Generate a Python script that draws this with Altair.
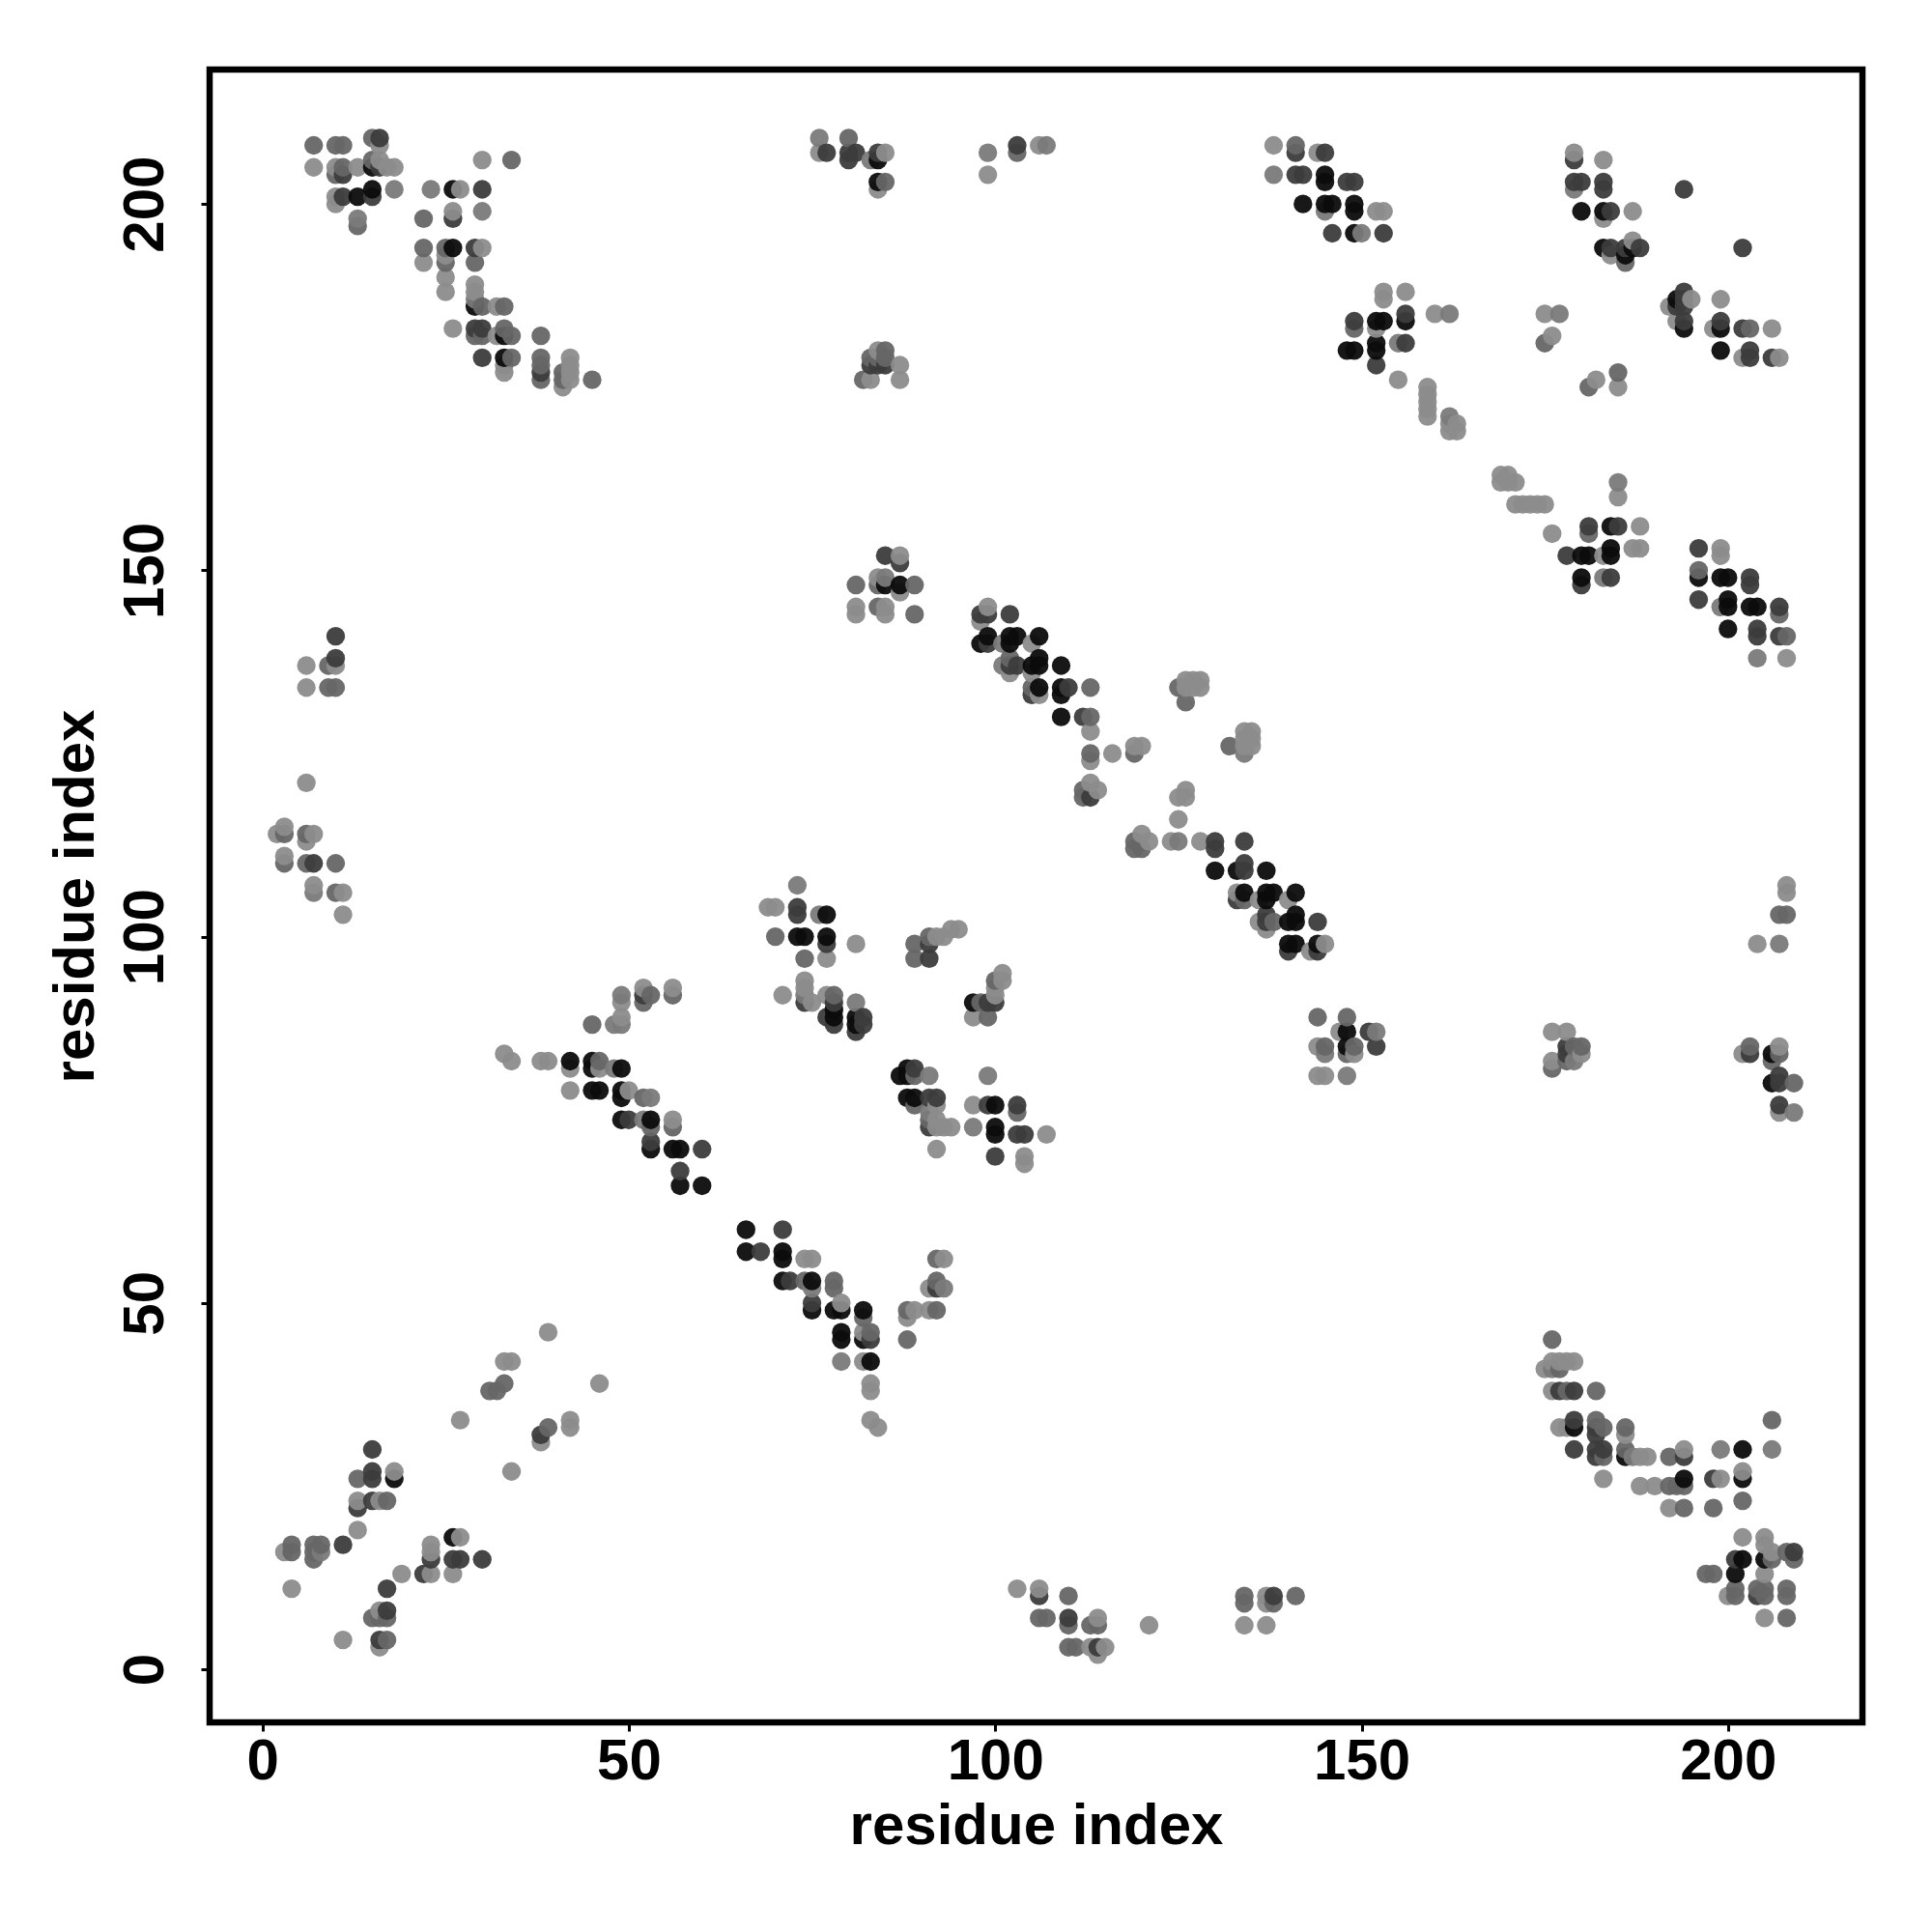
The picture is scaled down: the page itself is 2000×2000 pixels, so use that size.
import altair as alt
import pandas as pd

top_left = [(7,208,'M'),(10,208,'M'),(11,208,'M'),(15,209,'M'),(16,209,'D'),(16,208,'L'),(7,205,'L'),(10,205,'L'),(11,205,'M'),(10,204,'M'),(11,204,'D'),(13,205,'L'),(15,205,'K'),(15,206,'M'),(16,206,'L'),(16,205,'D'),(17,205,'L'),(18,205,'L'),(18,202,'A'),(15,202,'K'),(15,201,'D'),(13,201,'K'),(11,201,'D'),(10,201,'L'),(10,200,'L'),(13,198,'A'),(13,197,'M')]
arc_a = [(23,202,'A'),(26,202,'K'),(27,202,'L'),(30,202,'D'),(30,206,'L'),(34,206,'M'),(30,199,'A'),(26,199,'L'),(26,198,'D'),(22,198,'M'),(22,194,'M'),(22,192,'L'),(25,194,'M'),(26,194,'K'),(25,193,'L'),(25,192,'M'),(25,190,'L'),(25,188,'L'),(29,194,'D'),(30,194,'L'),(29,192,'M'),(29,189,'L'),(29,188,'L'),(29,187,'A'),(29,186,'K'),(30,186,'M'),(32,186,'L'),(33,186,'M'),(26,183,'L'),(29,183,'D'),(30,183,'D'),(29,182,'M'),(30,182,'M'),(32,182,'L'),(33,183,'M'),(33,182,'K'),(34,182,'M'),(38,182,'M'),(30,179,'D'),(33,179,'K'),(34,179,'M'),(33,178,'L'),(33,177,'L'),(38,179,'M'),(38,178,'M'),(38,177,'D'),(38,176,'M'),(42,179,'L'),(42,178,'L'),(42,177,'L'),(42,176,'L'),(41,177,'M'),(41,176,'M'),(41,175,'L'),(45,176,'M')]
top_mid = [(76,209,'A'),(76,207,'L'),(77,207,'D'),(80,209,'M'),(80,207,'D'),(80,206,'D'),(81,207,'D'),(83,206,'A'),(84,207,'D'),(84,206,'K'),(85,207,'L'),(84,203,'K'),(85,203,'M'),(84,202,'L'),(99,207,'A'),(99,204,'L'),(103,208,'D'),(103,207,'M'),(106,208,'L'),(107,208,'A')]
mid_176 = [(85,180,'M'),(84,180,'L'),(83,179,'M'),(84,179,'M'),(85,179,'M'),(83,178,'D'),(84,178,'D'),(85,178,'D'),(87,178,'L'),(82,176,'M'),(83,176,'L'),(87,176,'L')]
mid_148 = [(85,152,'D'),(87,152,'L'),(87,151,'D'),(81,148,'M'),(84,149,'L'),(85,149,'A'),(84,148,'M'),(85,148,'K'),(87,148,'K'),(89,148,'M'),(87,147,'L'),(81,145,'L'),(81,144,'L'),(84,145,'M'),(85,145,'L'),(85,144,'L'),(89,144,'M')]
left_137 = [(10,141,'D'),(10,138,'D'),(9,137,'M'),(10,137,'L'),(6,137,'L'),(6,134,'L'),(9,134,'M'),(10,134,'M'),(6,121,'L')]
left_110 = [(2,114,'L'),(3,115,'L'),(3,114,'M'),(3,111,'L'),(3,110,'M'),(6,114,'M'),(7,114,'L'),(6,113,'L'),(6,110,'M'),(7,110,'D'),(10,110,'M'),(7,107,'L'),(7,106,'A'),(10,106,'M'),(11,106,'L'),(11,103,'L')]
cross_100 = [(73,107,'A'),(69,104,'L'),(70,104,'L'),(73,104,'D'),(73,103,'D'),(76,103,'A'),(77,103,'K'),(70,100,'M'),(73,100,'K'),(74,100,'K'),(77,100,'K'),(77,99,'D'),(81,99,'L'),(74,97,'M'),(77,97,'L'),(89,99,'M'),(89,97,'M'),(91,100,'M'),(91,99,'D'),(91,97,'D'),(92,100,'L'),(93,100,'L'),(94,101,'L'),(95,101,'L')]
cross_90 = [(74,94,'L'),(74,93,'L'),(71,92,'L'),(74,92,'A'),(77,92,'L'),(78,92,'M'),(81,91,'A'),(74,91,'D'),(75,91,'L'),(78,91,'D'),(78,90,'K'),(77,89,'D'),(78,89,'K'),(78,88,'D'),(81,89,'K'),(82,89,'D'),(81,88,'K'),(82,88,'D'),(81,87,'D')]
rise_50 = [(49,92,'A'),(49,91,'L'),(49,89,'L'),(49,88,'A'),(48,88,'A'),(45,88,'M'),(52,93,'L'),(52,92,'D'),(52,91,'M'),(53,92,'M'),(56,93,'L'),(56,92,'M')]
fall_75 = [(33,84,'L'),(34,83,'L'),(38,83,'L'),(39,83,'L'),(42,83,'K'),(45,83,'K'),(46,83,'M'),(42,82,'L'),(45,82,'K'),(46,82,'L'),(48,82,'A'),(49,82,'K'),(42,79,'L'),(45,79,'K'),(46,79,'K'),(49,79,'K'),(50,79,'L'),(49,78,'K'),(52,78,'M'),(53,78,'A'),(49,75,'K'),(50,75,'D'),(52,75,'A'),(53,75,'K'),(56,75,'L'),(53,74,'M'),(56,74,'M'),(53,72,'D'),(53,71,'K'),(56,71,'K'),(57,71,'K'),(60,71,'D'),(57,68,'D'),(57,66,'K'),(60,66,'K')]
fall_50 = [(66,60,'K'),(66,57,'K'),(68,57,'D'),(71,60,'D'),(71,57,'K'),(71,56,'K'),(74,56,'L'),(75,56,'L'),(71,53,'K'),(72,53,'D'),(74,53,'M'),(75,53,'K'),(75,52,'A'),(78,53,'M'),(78,52,'M'),(75,50,'D'),(75,49,'K'),(78,49,'K'),(79,49,'K'),(79,50,'L'),(82,49,'K'),(82,48,'M'),(79,46,'K'),(79,45,'K'),(82,46,'L'),(83,46,'M'),(82,45,'K'),(83,45,'D'),(79,42,'A'),(82,42,'L'),(83,42,'K'),(83,39,'L'),(83,38,'L'),(83,34,'L'),(84,33,'L'),(88,49,'M'),(88,48,'L'),(89,49,'L'),(88,45,'M'),(91,49,'L'),(92,49,'M'),(92,56,'M'),(93,56,'L'),(91,52,'L'),(92,53,'M'),(92,52,'D'),(93,52,'A')]
low_left = [(39,46,'L'),(33,42,'L'),(34,42,'L'),(46,39,'L'),(31,38,'M'),(32,38,'M'),(33,39,'M'),(27,34,'L'),(42,34,'L'),(42,33,'L'),(39,33,'M'),(38,32,'D'),(38,31,'L'),(34,27,'L'),(15,30,'D'),(13,26,'M'),(15,27,'D'),(15,26,'D'),(18,27,'L'),(18,26,'K'),(13,23,'L'),(13,22,'D'),(15,23,'D'),(16,23,'L'),(17,23,'M'),(13,19,'L'),(3,16,'L'),(4,17,'M'),(4,16,'M'),(7,17,'M'),(7,16,'M'),(7,15,'M'),(8,17,'M'),(8,16,'A'),(11,17,'D'),(4,11,'L'),(26,18,'K'),(27,18,'L'),(23,17,'L'),(23,16,'L'),(23,15,'D'),(26,15,'D'),(27,15,'D'),(30,15,'D'),(19,13,'L'),(22,13,'D'),(23,13,'L'),(26,13,'L'),(17,11,'D'),(15,7,'M'),(16,8,'L'),(17,8,'D'),(16,7,'M'),(17,7,'M'),(11,4,'L'),(16,4,'D'),(17,4,'M'),(16,3,'L')]
top_145 = [(138,208,'L'),(141,208,'M'),(141,207,'D'),(144,207,'L'),(145,207,'D'),(138,204,'A'),(141,204,'D'),(142,204,'D'),(145,204,'K'),(145,203,'K'),(148,203,'D'),(149,203,'D'),(142,200,'K'),(145,200,'K'),(146,200,'K'),(145,199,'A'),(149,200,'K'),(149,199,'K'),(152,199,'L'),(153,199,'L'),(146,196,'D'),(149,196,'K'),(150,196,'A'),(153,196,'D')]
blob_152 = [(153,188,'L'),(153,187,'L'),(156,188,'L'),(156,185,'D'),(156,184,'K'),(160,185,'L'),(162,185,'A'),(149,184,'D'),(149,183,'M'),(152,184,'K'),(153,184,'K'),(152,183,'L'),(152,181,'K'),(152,180,'K'),(155,181,'A'),(156,181,'D'),(148,180,'K'),(149,180,'K'),(152,178,'D'),(155,176,'L')]
tail_165 = [(159,175,'L'),(159,174,'L'),(159,173,'L'),(159,172,'L'),(159,171,'L'),(162,171,'A'),(162,170,'L'),(163,170,'L'),(162,169,'L'),(163,169,'L'),(169,163,'L'),(170,163,'L'),(169,162,'L'),(170,162,'L'),(171,162,'L'),(171,159,'L'),(172,159,'L'),(173,159,'L'),(174,159,'L'),(175,159,'L'),(176,155,'L')]
blob_182 = [(185,162,'A'),(185,160,'L'),(181,156,'D'),(181,155,'M'),(184,156,'K'),(185,156,'D'),(188,156,'L'),(178,152,'D'),(180,152,'K'),(181,152,'K'),(183,152,'L'),(184,153,'K'),(184,152,'K'),(187,153,'L'),(188,153,'L'),(180,149,'K'),(180,148,'D'),(183,149,'A'),(184,149,'D')]
blob_202 = [(196,153,'D'),(199,153,'L'),(199,152,'L'),(196,150,'M'),(196,149,'K'),(199,149,'K'),(200,149,'K'),(203,149,'D'),(203,148,'D'),(196,146,'D'),(199,145,'A'),(200,146,'K'),(200,145,'K'),(203,145,'K'),(204,145,'K'),(207,145,'D'),(207,144,'M'),(200,142,'K'),(204,142,'D'),(204,141,'D'),(207,141,'D'),(208,141,'M'),(204,138,'A'),(208,138,'L')]
top_right = [(179,207,'L'),(179,206,'D'),(183,206,'L'),(179,203,'D'),(180,203,'D'),(179,202,'A'),(183,203,'D'),(183,202,'D'),(180,199,'K'),(183,199,'K'),(184,199,'D'),(183,198,'L'),(187,199,'L'),(194,202,'D'),(183,194,'K'),(184,194,'D'),(184,193,'L'),(186,194,'D'),(187,195,'L'),(187,194,'K'),(186,193,'K'),(186,192,'M'),(188,194,'D'),(202,194,'D')]
right_184 = [(194,188,'D'),(193,187,'K'),(194,187,'D'),(195,187,'L'),(192,186,'L'),(193,186,'D'),(194,186,'D'),(199,187,'L'),(193,184,'L'),(194,184,'D'),(194,183,'K'),(198,183,'L'),(199,184,'D'),(199,183,'K'),(202,183,'D'),(203,183,'M'),(206,183,'L'),(199,180,'K'),(203,180,'D'),(203,179,'D'),(202,179,'L'),(206,179,'D'),(207,179,'L')]
scatter_180 = [(175,185,'L'),(177,185,'A'),(176,182,'L'),(175,181,'M'),(181,175,'M'),(182,176,'L'),(185,177,'M'),(185,175,'L')]
diag_upper = [(99,145,'L'),(98,144,'D'),(99,144,'D'),(102,144,'D'),(98,143,'L'),(98,140,'K'),(99,141,'K'),(99,140,'D'),(102,141,'K'),(103,141,'K'),(102,140,'K'),(106,141,'K'),(101,140,'A'),(105,140,'L'),(101,137,'A'),(102,138,'M'),(102,137,'D'),(102,136,'L'),(103,137,'D'),(105,137,'K'),(106,138,'K'),(106,137,'K'),(109,137,'K'),(105,136,'L'),(106,134,'K'),(105,134,'M'),(105,133,'D'),(106,133,'L'),(109,134,'K'),(110,134,'D'),(109,133,'K'),(113,134,'M'),(109,130,'K'),(112,130,'D'),(113,130,'M'),(113,128,'L'),(113,125,'M'),(113,124,'L'),(116,125,'L'),(119,126,'L'),(120,126,'L'),(119,125,'M'),(112,120,'M'),(113,121,'L'),(114,120,'L'),(112,119,'M'),(113,119,'D')]
cross_130 = [(125,134,'M'),(126,135,'L'),(127,135,'L'),(128,135,'L'),(126,134,'L'),(127,134,'L'),(128,134,'L'),(126,132,'M'),(132,126,'M'),(134,128,'L'),(135,128,'L'),(134,127,'L'),(135,127,'L'),(134,126,'L'),(135,126,'L'),(134,125,'A')]
diag_lower = [(126,120,'L'),(125,119,'L'),(126,119,'L'),(125,116,'L'),(119,113,'M'),(120,114,'L'),(121,113,'L'),(119,112,'M'),(120,112,'M'),(124,113,'L'),(125,113,'A'),(128,113,'L'),(130,113,'D'),(130,112,'D'),(134,113,'D'),(130,109,'K'),(133,109,'K'),(134,110,'D'),(134,109,'D'),(137,109,'K'),(133,106,'L'),(134,106,'K'),(133,105,'D'),(134,105,'M'),(137,106,'K'),(138,106,'K'),(137,105,'K'),(141,106,'K'),(140,105,'L'),(136,105,'L'),(136,102,'L'),(137,103,'D'),(137,102,'D'),(138,102,'M'),(137,101,'L'),(140,102,'K'),(141,103,'K'),(141,102,'K'),(144,102,'D'),(140,99,'K'),(141,99,'K'),(140,98,'D'),(144,99,'K'),(145,99,'L'),(143,98,'L'),(144,98,'D')]
right_103 = [(208,107,'L'),(208,106,'L'),(207,103,'M'),(208,103,'M'),(204,99,'L'),(207,99,'A')]
blob_85 = [(87,81,'K'),(88,82,'K'),(89,82,'D'),(88,81,'K'),(89,81,'M'),(91,81,'A'),(88,78,'K'),(89,78,'K'),(89,77,'M'),(91,78,'D'),(92,78,'D'),(92,77,'L'),(91,76,'A'),(91,75,'M'),(91,74,'D'),(92,74,'L'),(93,74,'L'),(94,74,'L'),(92,71,'L'),(92,75,'L'),(99,81,'A'),(97,77,'L'),(99,77,'D'),(100,77,'K'),(103,77,'D'),(103,76,'M'),(97,74,'A'),(100,74,'K'),(100,73,'K'),(103,73,'D'),(104,73,'D'),(107,73,'L'),(100,70,'D'),(104,70,'L'),(104,69,'L'),(101,95,'L'),(100,94,'M'),(101,94,'L'),(100,93,'L'),(100,92,'L'),(99,91,'D'),(100,91,'D'),(97,91,'K'),(98,91,'M'),(97,89,'L'),(99,89,'M')]
blob_148 = [(144,89,'M'),(148,89,'M'),(147,87,'L'),(148,87,'K'),(151,87,'D'),(152,87,'A'),(144,85,'L'),(145,85,'M'),(148,85,'K'),(149,85,'M'),(152,85,'D'),(145,84,'A'),(148,84,'M'),(149,84,'L'),(144,81,'L'),(145,81,'L'),(148,81,'A')]
blob_178 = [(176,87,'L'),(178,87,'L'),(178,85,'D'),(179,85,'M'),(180,85,'M'),(176,83,'L'),(176,82,'M'),(178,84,'D'),(178,83,'M'),(179,83,'A'),(180,84,'L')]
blob_206 = [(202,84,'L'),(203,85,'M'),(203,84,'D'),(206,84,'K'),(207,85,'L'),(207,84,'M'),(206,83,'M'),(206,80,'K'),(207,81,'D'),(207,80,'D'),(209,80,'M'),(207,77,'D'),(207,76,'L'),(209,76,'A')]
arc_b = [(176,45,'M'),(175,41,'L'),(176,42,'L'),(176,41,'A'),(177,42,'L'),(178,42,'L'),(179,42,'L'),(177,41,'M'),(176,38,'L'),(177,38,'D'),(178,38,'M'),(179,38,'D'),(182,38,'M'),(177,33,'L'),(178,33,'L'),(179,34,'D'),(179,33,'K'),(182,34,'M'),(182,33,'D'),(183,33,'M'),(182,32,'D'),(186,33,'M'),(186,32,'L'),(179,30,'D'),(182,30,'D'),(183,30,'D'),(182,29,'D'),(183,29,'M'),(186,30,'M'),(186,29,'K'),(187,29,'A'),(188,29,'L'),(189,29,'L'),(183,26,'L'),(192,29,'M'),(194,30,'L'),(194,29,'D'),(199,30,'A'),(202,30,'K'),(198,26,'D'),(199,26,'L'),(194,26,'K'),(202,27,'L'),(202,26,'K'),(188,25,'L'),(190,25,'L'),(192,25,'M'),(193,25,'M'),(194,25,'M'),(192,22,'L'),(194,22,'M'),(198,22,'M'),(202,23,'M'),(206,34,'M'),(206,30,'A')]
corner = [(202,18,'L'),(205,18,'L'),(205,17,'L'),(206,16,'L'),(205,15,'K'),(206,15,'M'),(208,16,'M'),(209,16,'D'),(209,15,'M'),(201,15,'D'),(202,15,'K'),(201,13,'K'),(197,13,'M'),(198,13,'M'),(205,13,'L'),(201,11,'M'),(205,11,'M'),(200,10,'L'),(201,10,'M'),(204,11,'M'),(204,10,'D'),(205,10,'M'),(208,11,'M'),(208,10,'M'),(205,7,'L'),(208,7,'M')]
bottom_mid = [(103,11,'L'),(106,11,'L'),(106,10,'D'),(110,10,'M'),(106,7,'M'),(107,7,'M'),(110,7,'D'),(110,6,'M'),(113,6,'M'),(114,7,'L'),(114,6,'M'),(110,3,'M'),(111,3,'M'),(113,3,'L'),(114,3,'D'),(115,3,'L'),(114,2,'L'),(121,6,'L'),(134,10,'M'),(134,9,'M'),(137,10,'L'),(138,10,'D'),(137,9,'L'),(138,9,'M'),(141,10,'M'),(134,6,'L'),(137,6,'L')]

groups = [top_left, arc_a, top_mid, mid_176, mid_148, left_137, left_110, cross_100, cross_90,
          rise_50, fall_75, fall_50, low_left, top_145, blob_152, tail_165, blob_182, blob_202,
          top_right, right_184, scatter_180, diag_upper, cross_130, diag_lower, right_103,
          blob_85, blob_148, blob_178, blob_206, arc_b, corner, bottom_mid]
shades = {'L': '#8c8c8c', 'A': '#7a7a7a', 'M': '#666666', 'D': '#3c3c3c', 'K': '#0c0c0c'}

rows = [{'x': x, 'y': y, 'c': shades[s]} for g in groups for x, y, s in g]
df = pd.DataFrame(rows).sort_values(['x', 'y']).reset_index(drop=True)

FONT = 'Liberation Sans'
x_axis = alt.Axis(values=[0, 50, 100, 150, 200], title='residue index', domain=False, grid=False,
                  tickColor='black', tickWidth=3, tickSize=9, labelFont=FONT, labelFontSize=60,
                  labelFontWeight='bold', labelColor='black', labelPadding=2, labelFlush=False,
                  labelOverlap=False, titleFont=FONT, titleFontSize=60, titleFontWeight='bold',
                  titleColor='black', titlePadding=8)
y_axis = alt.Axis(values=[0, 50, 100, 150, 200], title='residue index', domain=False, grid=False,
                  tickColor='black', tickWidth=3, tickSize=9, labelFont=FONT, labelFontSize=60,
                  labelFontWeight='bold', labelColor='black', labelAngle=270, labelAlign='center',
                  labelBaseline='bottom', labelPadding=27, labelFlush=False, labelOverlap=False,
                  titleFont=FONT, titleFontSize=60, titleFontWeight='bold', titleColor='black',
                  titlePadding=11)

chart = (
    alt.Chart(df)
    .mark_circle(size=375, opacity=0.95, stroke=None)
    .encode(
        x=alt.X('x:Q', axis=x_axis, scale=alt.Scale(domain=[-7.2, 218.35], nice=False, zero=False)),
        y=alt.Y('y:Q', axis=y_axis, scale=alt.Scale(domain=[-7.25, 218.35], nice=False, zero=False)),
        color=alt.Color('c:N', scale=None),
    )
    .properties(width=1711, height=1711,
                autosize=alt.AutoSizeParams(type='none'),
                padding={'left': 209, 'top': 64, 'right': 64, 'bottom': 209})
    .configure_view(stroke='black', strokeWidth=6.5, fill='white')
)
chart.save('out.html', embed_options={'renderer': 'svg', 'actions': False})
